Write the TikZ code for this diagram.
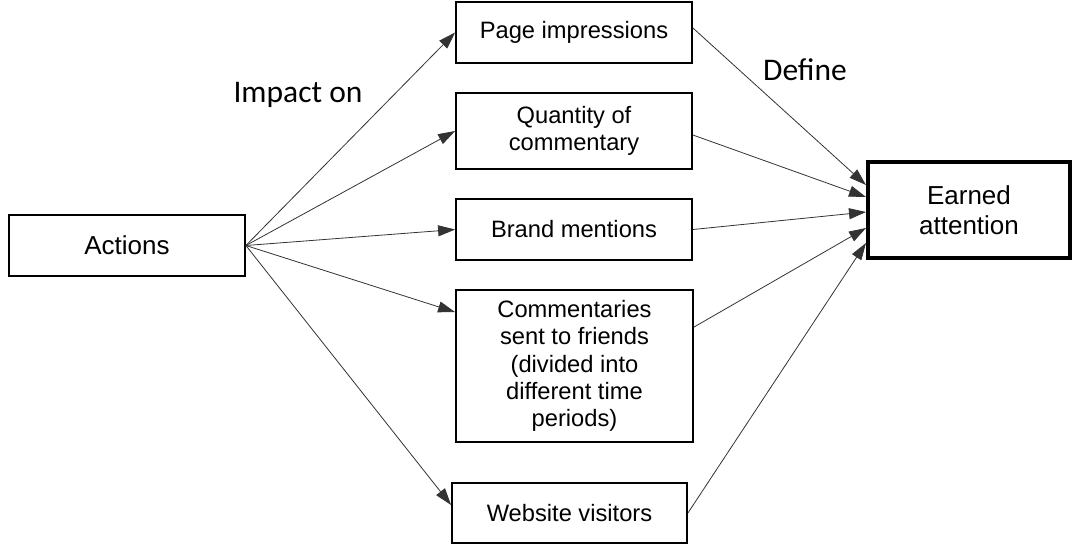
\documentclass[tikz,border=0pt]{standalone}
\usepackage{fontspec}
\setmainfont{Liberation Sans}
\newfontfamily\labfont{Carlito}
\usetikzlibrary{arrows.meta,calc}
\tikzset{
  box/.style={draw=black, line width=1.8pt, fill=white, align=center, inner sep=0pt,
    font=\fontsize{23.7}{27.2}\selectfont},
  largetext/.style={font=\fontsize{26}{30.5}\selectfont},
  bigbox/.style={box, largetext, line width=4pt},
  link/.style={draw=black!80, line width=0.8pt, -{Triangle[length=17pt,width=11pt]}},
  lab/.style={font=\labfont\fontsize{31.5}{34}\selectfont, inner sep=0pt}
}
\begin{document}
\begin{tikzpicture}[x=1pt,y=-1pt]
\useasboundingbox (0,0) rectangle (1072,547);

% boxes
\node[box, largetext, minimum width=236pt, minimum height=61pt] (act) at (127,245.5) {Actions};
\node[box, minimum width=236pt, minimum height=61pt] (page) at (574,32.5) {Page impressions};
\node[box, minimum width=236pt, minimum height=76pt] (qty) at (574,131) {Quantity of\\commentary};
\node[box, minimum width=236pt, minimum height=61pt] (brand) at (574,229.5) {Brand mentions};
\node[box, minimum width=237pt, minimum height=152pt] (comm) at (574.5,366)
  {Commentaries\\sent to friends\\(divided into\\different time\\periods)};
\node[box, minimum width=235pt, minimum height=60pt] (web) at (569.5,513) {Website visitors};
\node[bigbox, minimum width=202pt, minimum height=96pt] (earn) at (969,210) {Earned\\attention};

% labels
\node[lab] (impact) at (298,95) {Impact on};
\node[lab] (define) at (805,70) {Define};

% actions to measures
\draw[link] (act.east) -- (page.west);
\draw[link] (act.east) -- (qty.west);
\draw[link] (act.east) -- (brand.west);
\draw[link] (act.east) -- ([yshift=-23pt]comm.north west);
\draw[link] (act.east) -- ([yshift=8pt]web.west);

% measures to earned attention
\draw[link] ([yshift=4.5pt]page.east) -- ([yshift=25pt]earn.west);
\draw[link] ([yshift=-4pt]qty.east) -- ([yshift=13pt]earn.west);
\draw[link] (brand.east) -- ([yshift=-2pt]earn.west);
\draw[link] ([yshift=-38pt]comm.north east) -- ([yshift=-18pt]earn.west);
\draw[link] (web.east) -- ([yshift=-33pt]earn.west);
\end{tikzpicture}
\end{document}
